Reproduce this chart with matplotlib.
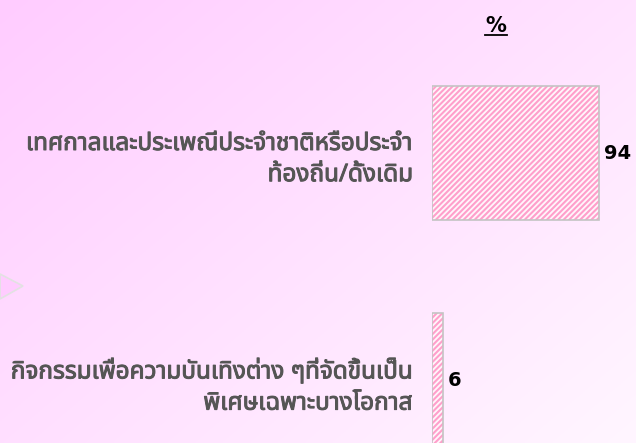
import numpy as np
import matplotlib
matplotlib.use("Agg")
import matplotlib.pyplot as plt
from matplotlib import font_manager
from matplotlib.ft2font import FT2Font
from matplotlib.patches import Polygon
from matplotlib.lines import Line2D
import matplotlib.patheffects as pe

# ---- data ----
categories = ["เทศกาลและประเพณีประจำชาติหรือประจำ\nท้องถิ่น/ดั้งเดิม",
              "กิจกรรมเพื่อความบันเทิงต่าง ๆที่จัดขึ้นเป็น\nพิเศษเฉพาะบางโอกาส"]
values = [94, 6]
header = "%"

# ---- find a font with Thai glyphs ----
def find_thai_family():
    prefs = ['Tahoma', 'Noto Sans Thai', 'Noto Sans Thai UI', 'Loma', 'Garuda',
             'Tlwg Typo', 'Sarabun', 'Kinnari', 'Norasi', 'FreeSans', 'DejaVu Sans']
    found = {}
    for f in font_manager.fontManager.ttflist:
        try:
            cm = FT2Font(f.fname).get_charmap()
        except Exception:
            continue
        if 0x0E01 in cm:
            found.setdefault(f.name, []).append(f)
    for p in prefs:
        if p in found:
            return p
    if found:
        return sorted(found)[0]
    return 'DejaVu Sans'

thai_family = find_thai_family()

W, H = 636, 443
fig = plt.figure(figsize=(W / 100, H / 100), dpi=100)

# background gradient
bg = fig.add_axes([0, 0, 1, 1])
yy, xx = np.mgrid[0:1:200j, 0:1:300j]
t = np.clip((xx * 0.55 + yy * 0.45), 0, 1)
c0 = np.array([255, 204, 255]) / 255
c1 = np.array([255, 246, 255]) / 255
img = c0[None, None, :] * (1 - t[..., None]) + c1[None, None, :] * t[..., None]
bg.imshow(img, extent=[0, 1, 0, 1], aspect='auto', origin='upper')
bg.set_xlim(0, 1)
bg.set_ylim(0, 1)
bg.axis('off')
# decorative triangle on the left
tri = Polygon([[0, 1 - 274 / H], [23 / W, 1 - 286 / H], [0, 1 - 299 / H]],
              closed=True, facecolor='#FFCCFF', edgecolor='#E2E2E2', lw=1.2,
              transform=fig.transFigure)
bg.add_patch(tri)

# main axes
ax = fig.add_axes([432 / W, 0, 177.7 / W, 1])
ax.patch.set_alpha(0)
ypos = np.arange(len(values))
plt.rcParams['hatch.linewidth'] = 1.5
ax.barh(ypos, values, height=0.59, color='#FFF6FB', edgecolor='#FF9FCB',
        hatch='//////', linewidth=0)
bars = ax.barh(ypos, values, height=0.59, fill=False, edgecolor='#C4C4C4',
               linewidth=1.2)
ax.set_xlim(0, 100)
ax.set_ylim(1.2775, -0.674)
ax.set_yticks(ypos)
ax.set_yticklabels(categories, family=[thai_family, 'DejaVu Sans'],
                   fontsize=17.5, fontweight='bold', color='#555555',
                   ha='right', linespacing=1.4)
for lab in ax.get_yticklabels():
    lab.set_path_effects([pe.withStroke(linewidth=0.7, foreground='#555555')])
ax.tick_params(axis='y', length=0, pad=13.5)
ax.set_xticks([])
for s in ax.spines.values():
    s.set_visible(False)
ax.bar_label(bars, labels=[str(v) for v in values], padding=3.5,
             fontsize=14, fontweight='bold', color='black')

# header
fig.text(496 / W, 1 - 26 / H, header, ha='center', va='center',
         fontsize=15, fontweight='bold', color='black')
fig.add_artist(Line2D([485 / W, 507 / W], [1 - 35 / H, 1 - 35 / H],
                      color='black', lw=1.3, transform=fig.transFigure))

fig.savefig("out.png", dpi=100)
